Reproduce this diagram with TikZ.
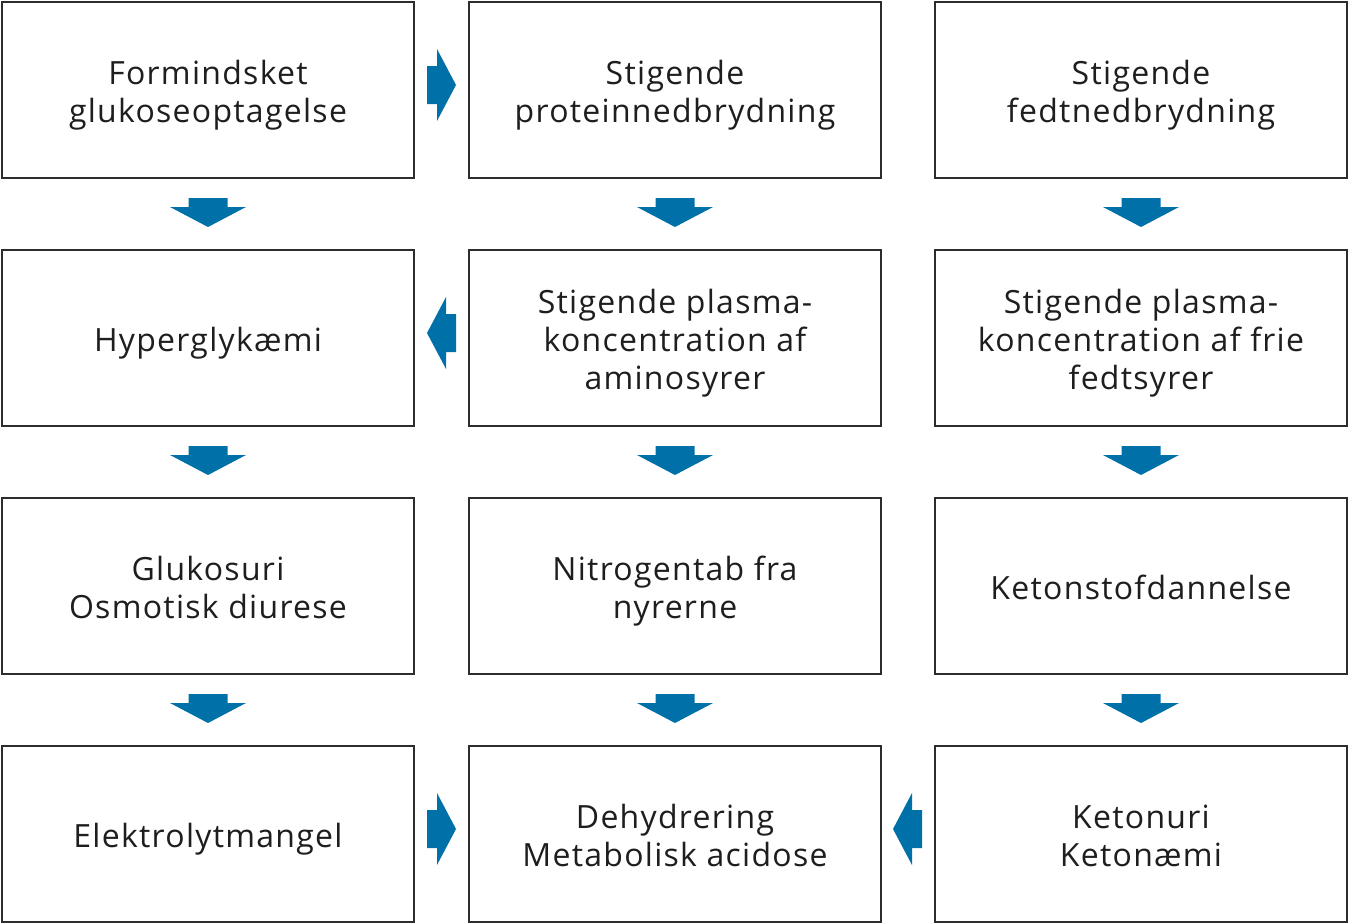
\documentclass[tikz,border=0pt]{standalone}
\usepackage{fontspec}
\setmainfont[LetterSpace=4]{Open Sans}
\definecolor{arrblue}{RGB}{0,112,168}
\definecolor{boxline}{RGB}{45,45,45}
\definecolor{txt}{RGB}{30,30,30}
\newcommand\ls{\rule[-8pt]{0pt}{42pt}}
\newcommand\boxfont{\fontsize{32pt}{38pt}\selectfont\lineskiplimit=-100pt\relax}
\tikzset{
  box/.style={draw=boxline, line width=2pt, minimum width=412pt, minimum height=176pt,
    inner sep=0pt, align=center, text=txt, font=\boxfont},
  arr/.style={fill=arrblue}
}
\newcommand\darr[1]{\fill[arr] ([shift={(-19.5pt,-19pt)}]#1.south) -- ++(39pt,0) -- ++(0,-9pt) -- ++(18.5pt,0) -- ++(-38pt,-20pt) -- ++(-38pt,20pt) -- ++(18.5pt,0) -- cycle;}
\newcommand\rarr[1]{\fill[arr] ([shift={(12pt,24pt)}]#1.east) -- ++(10pt,0) -- ++(0,17pt) -- ++(19pt,-36pt) -- ++(-19pt,-36pt) -- ++(0,17pt) -- ++(-10pt,0) -- cycle;}
\newcommand\larr[1]{\fill[arr] ([shift={(-12pt,24pt)}]#1.west) -- ++(-10pt,0) -- ++(0,17pt) -- ++(-19pt,-36pt) -- ++(19pt,-36pt) -- ++(0,17pt) -- ++(10pt,0) -- cycle;}
\begin{document}
\begin{tikzpicture}
\useasboundingbox[fill=white] (0,0) rectangle (1350pt,-924pt);
\node[box] (a1) at (208pt,-90pt) {\ls Formindsket\\\ls glukoseoptagelse};
\node[box] (b1) at (675pt,-90pt) {\ls Stigende\\\ls proteinnedbrydning};
\node[box] (c1) at (1141pt,-90pt) {\ls Stigende\\\ls fedtnedbrydning};
\node[box] (a2) at (208pt,-338pt) {\ls Hyperglykæmi};
\node[box] (b2) at (675pt,-338pt) {\ls Stigende plasma-\\\ls koncentration af\\\ls aminosyrer};
\node[box] (c2) at (1141pt,-338pt) {\ls Stigende plasma-\\\ls koncentration af frie\\\ls fedtsyrer};
\node[box] (a3) at (208pt,-586pt) {\ls Glukosuri\\\ls Osmotisk diurese};
\node[box] (b3) at (675pt,-586pt) {\ls Nitrogentab fra\\\ls nyrerne};
\node[box] (c3) at (1141pt,-586pt) {\ls Ketonstofdannelse};
\node[box] (a4) at (208pt,-834pt) {\ls Elektrolytmangel};
\node[box] (b4) at (675pt,-834pt) {\ls Dehydrering\\\ls Metabolisk acidose};
\node[box] (c4) at (1141pt,-834pt) {\ls Ketonuri\\\ls Ketonæmi};
\darr{a1}\darr{b1}\darr{c1}
\darr{a2}\darr{b2}\darr{c2}
\darr{a3}\darr{b3}\darr{c3}
\rarr{a1}
\larr{b2}
\rarr{a4}
\larr{c4}
\end{tikzpicture}
\end{document}
